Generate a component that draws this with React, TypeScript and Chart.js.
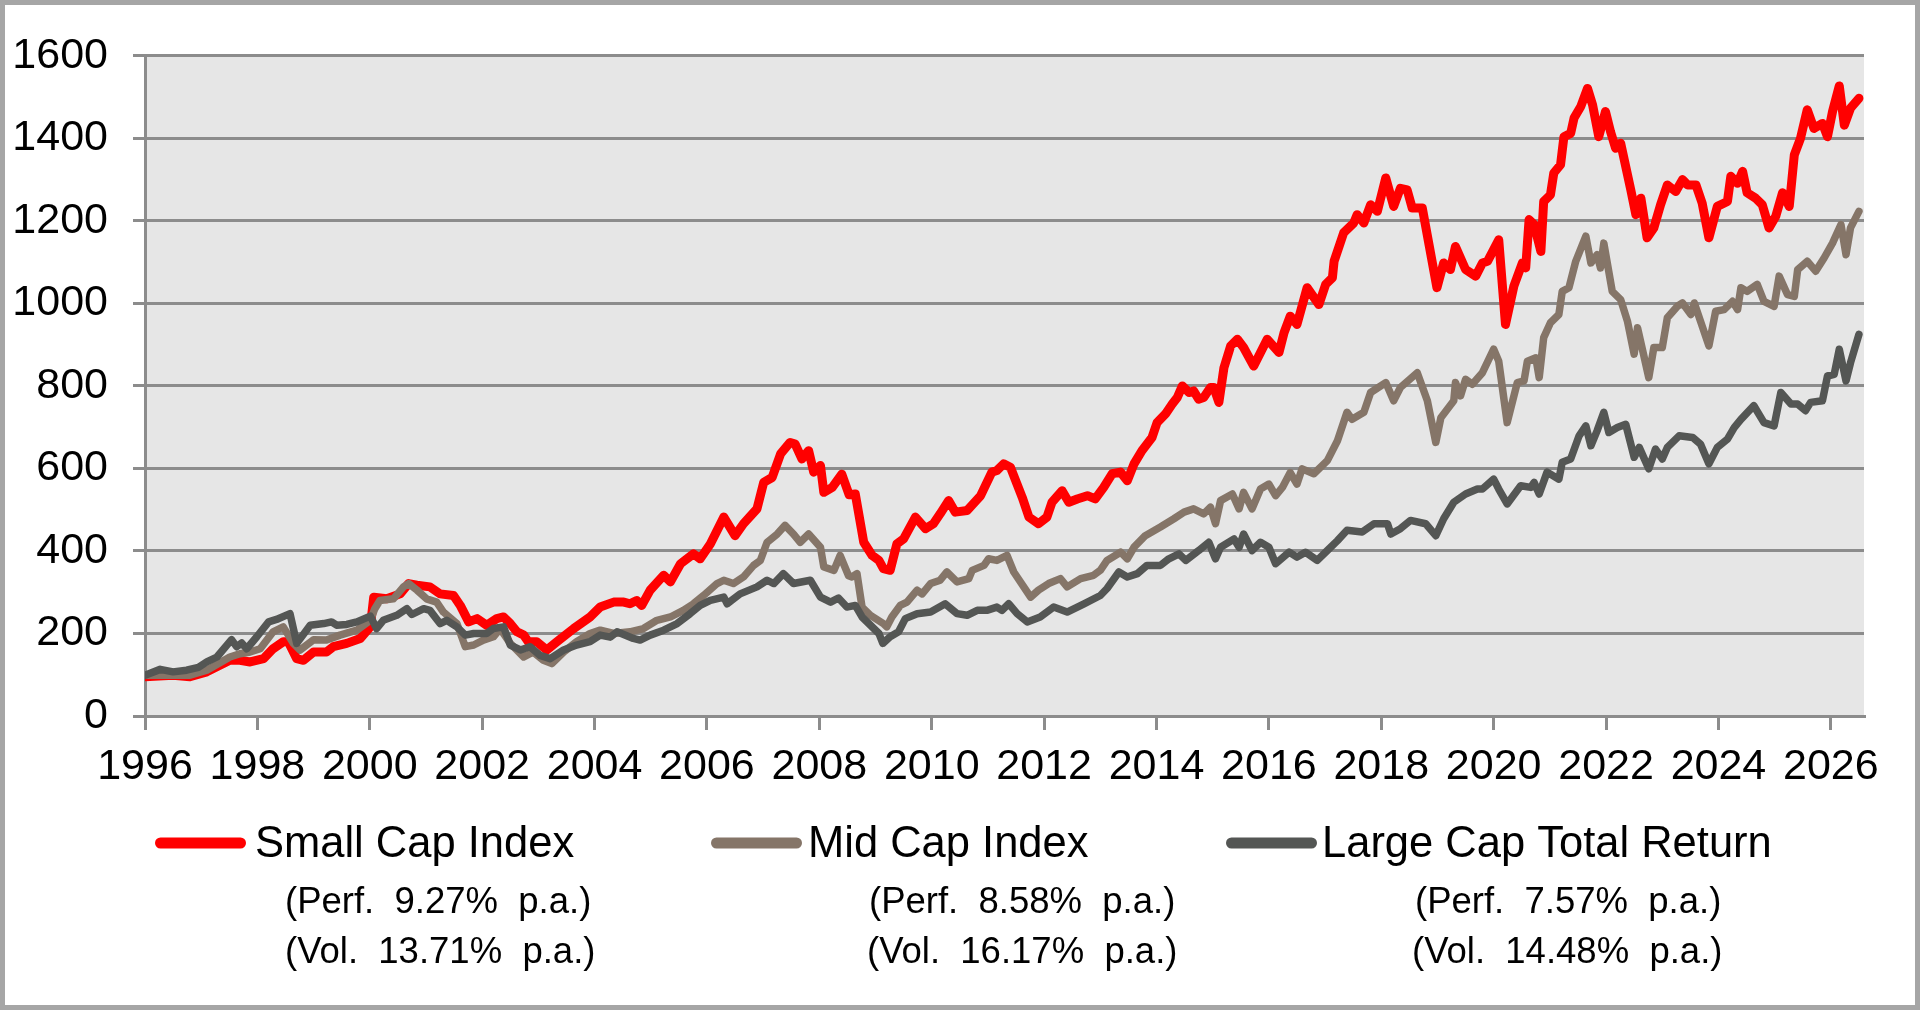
import React, { useEffect, useRef } from 'react';
import { Chart, registerables } from 'chart.js';

Chart.register(...registerables);

type Pt = [number, number];

// [year, index level]
const smallCap: Pt[] = [
  [1996.0, 95], [1996.5, 99], [1996.8, 95], [1997.1, 107], [1997.51, 135], [1997.69, 135], [1997.87, 131],
  [1998.11, 139], [1998.28, 163], [1998.46, 180], [1998.55, 180], [1998.7, 139], [1998.82, 135], [1999.0, 155],
  [1999.23, 155], [1999.35, 168], [1999.59, 176], [1999.83, 188], [2000.01, 216], [2000.07, 288], [2000.3, 284],
  [2000.54, 296], [2000.69, 321], [2000.84, 317], [2001.07, 313], [2001.25, 296], [2001.49, 292], [2001.61, 268],
  [2001.76, 228], [2001.91, 236], [2002.08, 220], [2002.26, 236], [2002.38, 240], [2002.5, 224], [2002.62, 204],
  [2002.74, 196], [2002.82, 180], [2002.97, 180], [2003.15, 160], [2003.33, 180], [2003.63, 212], [2003.92, 240],
  [2004.1, 264], [2004.34, 276], [2004.52, 276], [2004.63, 272], [2004.75, 280], [2004.84, 268], [2004.99, 305],
  [2005.23, 341], [2005.35, 325], [2005.53, 369], [2005.76, 393], [2005.88, 381], [2006.06, 417], [2006.3, 482],
  [2006.5, 437], [2006.65, 466], [2006.89, 502], [2007.01, 566], [2007.16, 578], [2007.31, 635], [2007.48, 663],
  [2007.57, 659], [2007.69, 623], [2007.81, 643], [2007.9, 591], [2008.02, 607], [2008.08, 542], [2008.23, 554],
  [2008.4, 586], [2008.53, 536], [2008.64, 538], [2008.79, 421], [2008.94, 389], [2009.06, 377], [2009.14, 357],
  [2009.26, 353], [2009.38, 417], [2009.5, 429], [2009.71, 482], [2009.89, 454], [2010.03, 466], [2010.15, 490],
  [2010.3, 522], [2010.42, 494], [2010.63, 498], [2010.87, 534], [2011.07, 591], [2011.16, 595], [2011.28, 611],
  [2011.4, 603], [2011.61, 530], [2011.73, 482], [2011.9, 466], [2012.05, 482], [2012.14, 518], [2012.32, 546],
  [2012.44, 518], [2012.59, 526], [2012.77, 534], [2012.91, 526], [2013.06, 554], [2013.21, 587], [2013.36, 591],
  [2013.48, 570], [2013.6, 611], [2013.74, 643], [2013.92, 675], [2014.01, 711], [2014.16, 732], [2014.28, 756],
  [2014.37, 772], [2014.46, 800], [2014.58, 784], [2014.66, 788], [2014.75, 768], [2014.84, 772], [2014.96, 796],
  [2015.02, 796], [2015.11, 760], [2015.2, 844], [2015.32, 897], [2015.44, 913], [2015.55, 893], [2015.73, 848],
  [2015.97, 913], [2016.18, 881], [2016.27, 929], [2016.38, 969], [2016.5, 949], [2016.68, 1038], [2016.89, 997],
  [2017.01, 1046], [2017.13, 1062], [2017.16, 1102], [2017.33, 1171], [2017.51, 1195], [2017.57, 1215],
  [2017.69, 1195], [2017.81, 1239], [2017.93, 1223], [2018.08, 1304], [2018.22, 1235], [2018.34, 1279],
  [2018.46, 1275], [2018.55, 1231], [2018.73, 1231], [2018.85, 1142], [2018.99, 1038], [2019.11, 1098],
  [2019.23, 1082], [2019.32, 1138], [2019.5, 1082], [2019.68, 1066], [2019.8, 1098], [2019.89, 1102],
  [2020.09, 1154], [2020.21, 949], [2020.36, 1042], [2020.51, 1098], [2020.57, 1086], [2020.63, 1203],
  [2020.72, 1191], [2020.84, 1126], [2020.89, 1247], [2021.01, 1263], [2021.07, 1316], [2021.19, 1336],
  [2021.25, 1404], [2021.37, 1412], [2021.43, 1449], [2021.55, 1477], [2021.67, 1521], [2021.76, 1481],
  [2021.87, 1404], [2021.99, 1465], [2022.08, 1416], [2022.17, 1376], [2022.26, 1388], [2022.44, 1275],
  [2022.53, 1215], [2022.62, 1255], [2022.73, 1159], [2022.85, 1183], [2022.97, 1239], [2023.09, 1287],
  [2023.24, 1271], [2023.36, 1300], [2023.45, 1287], [2023.6, 1287], [2023.71, 1243], [2023.83, 1159],
  [2023.98, 1235], [2024.16, 1247], [2024.22, 1308], [2024.34, 1291], [2024.43, 1320], [2024.51, 1268],
  [2024.66, 1255], [2024.78, 1239], [2024.9, 1183], [2025.02, 1211], [2025.14, 1268], [2025.26, 1235],
  [2025.35, 1360], [2025.46, 1400], [2025.58, 1469], [2025.7, 1424], [2025.85, 1436], [2025.94, 1404],
  [2026.03, 1465], [2026.15, 1527], [2026.24, 1432], [2026.35, 1473], [2026.5, 1497],
];

const midCap: Pt[] = [
  [1996.0, 99], [1996.5, 99], [1996.8, 99], [1997.1, 111], [1997.51, 143], [1997.69, 151], [1997.87, 155],
  [1998.05, 163], [1998.28, 204], [1998.46, 216], [1998.64, 176], [1998.76, 160], [1999.0, 185], [1999.23, 184],
  [1999.47, 196], [1999.77, 208], [2000.01, 232], [2000.09, 260], [2000.18, 280], [2000.42, 284], [2000.6, 313],
  [2000.69, 321], [2000.84, 305], [2001.01, 284], [2001.19, 276], [2001.31, 252], [2001.55, 224], [2001.7, 168],
  [2001.85, 172], [2002.02, 184], [2002.2, 192], [2002.32, 212], [2002.5, 176], [2002.74, 143], [2002.91, 155],
  [2003.09, 135], [2003.24, 127], [2003.45, 155], [2003.68, 180], [2003.92, 200], [2004.1, 208], [2004.34, 200],
  [2004.63, 204], [2004.87, 212], [2005.11, 232], [2005.35, 240], [2005.58, 256], [2005.76, 272], [2005.94, 292],
  [2006.18, 321], [2006.3, 329], [2006.47, 321], [2006.65, 337], [2006.83, 365], [2006.95, 377], [2007.07, 421],
  [2007.25, 441], [2007.39, 462], [2007.54, 441], [2007.66, 421], [2007.81, 441], [2008.02, 409], [2008.08, 361],
  [2008.26, 353], [2008.37, 389], [2008.52, 340], [2008.58, 337], [2008.67, 345], [2008.76, 264], [2008.91, 244],
  [2009.14, 224], [2009.2, 216], [2009.29, 240], [2009.44, 268], [2009.56, 276], [2009.74, 305], [2009.83, 296],
  [2009.98, 321], [2010.15, 329], [2010.27, 349], [2010.45, 325], [2010.66, 333], [2010.72, 353], [2010.93, 365],
  [2011.01, 381], [2011.16, 377], [2011.34, 389], [2011.46, 349], [2011.76, 288], [2011.9, 305], [2012.08, 321],
  [2012.29, 333], [2012.41, 313], [2012.65, 333], [2012.88, 341], [2013.0, 353], [2013.12, 377], [2013.36, 397],
  [2013.48, 381], [2013.6, 409], [2013.8, 437], [2014.07, 458], [2014.31, 478], [2014.49, 494], [2014.66, 502],
  [2014.84, 490], [2014.96, 506], [2015.05, 466], [2015.14, 522], [2015.35, 538], [2015.47, 502], [2015.55, 542],
  [2015.7, 502], [2015.85, 550], [2016.0, 562], [2016.12, 534], [2016.24, 554], [2016.38, 590], [2016.5, 562],
  [2016.59, 599], [2016.8, 587], [2017.04, 619], [2017.22, 667], [2017.39, 736], [2017.48, 719], [2017.69, 736],
  [2017.81, 784], [2018.08, 808], [2018.22, 764], [2018.34, 796], [2018.64, 832], [2018.82, 764], [2018.97, 663],
  [2019.06, 723], [2019.29, 764], [2019.32, 808], [2019.41, 776], [2019.5, 816], [2019.62, 804], [2019.8, 832],
  [2020.0, 889], [2020.09, 860], [2020.24, 711], [2020.42, 808], [2020.54, 812], [2020.6, 860], [2020.75, 868],
  [2020.81, 820], [2020.89, 917], [2021.01, 953], [2021.16, 973], [2021.22, 1029], [2021.34, 1038],
  [2021.46, 1102], [2021.64, 1163], [2021.73, 1098], [2021.84, 1118], [2021.9, 1086], [2021.96, 1146],
  [2022.11, 1029], [2022.26, 1009], [2022.38, 957], [2022.5, 877], [2022.56, 941], [2022.76, 820], [2022.85, 893],
  [2023.0, 893], [2023.09, 965], [2023.27, 993], [2023.36, 1001], [2023.51, 973], [2023.57, 1001], [2023.68, 957],
  [2023.83, 897], [2023.95, 981], [2024.1, 985], [2024.25, 1005], [2024.34, 985], [2024.4, 1038], [2024.51, 1029],
  [2024.69, 1046], [2024.81, 1005], [2024.99, 993], [2025.08, 1066], [2025.23, 1021], [2025.35, 1017],
  [2025.41, 1082], [2025.58, 1102], [2025.73, 1078], [2025.88, 1110], [2026.03, 1146], [2026.18, 1191],
  [2026.27, 1118], [2026.35, 1183], [2026.5, 1223],
];

const largeCap: Pt[] = [
  [1996.0, 99], [1996.27, 113], [1996.5, 107], [1996.74, 111], [1996.95, 118], [1997.1, 131], [1997.28, 143],
  [1997.54, 185], [1997.63, 168], [1997.72, 177], [1997.81, 163], [1997.99, 192], [1998.2, 228], [1998.34, 234],
  [1998.58, 248], [1998.7, 176], [1998.94, 220], [1999.18, 224], [1999.32, 228], [1999.41, 220], [1999.59, 222],
  [1999.77, 228], [2000.01, 242], [2000.12, 212], [2000.24, 232], [2000.48, 244], [2000.66, 260], [2000.75, 246],
  [2000.96, 260], [2001.07, 256], [2001.25, 224], [2001.37, 232], [2001.55, 216], [2001.7, 196], [2001.85, 200],
  [2002.08, 200], [2002.2, 212], [2002.38, 216], [2002.5, 172], [2002.68, 160], [2002.85, 168], [2003.03, 147],
  [2003.21, 139], [2003.45, 160], [2003.68, 172], [2003.92, 180], [2004.1, 196], [2004.28, 191], [2004.4, 204],
  [2004.69, 188], [2004.81, 184], [2004.99, 196], [2005.23, 208], [2005.47, 224], [2005.7, 248], [2005.88, 268],
  [2006.06, 280], [2006.3, 288], [2006.36, 272], [2006.59, 296], [2006.89, 313], [2007.07, 329], [2007.19, 321],
  [2007.36, 345], [2007.54, 321], [2007.84, 329], [2008.02, 288], [2008.2, 276], [2008.34, 286], [2008.49, 264],
  [2008.64, 268], [2008.76, 240], [2008.91, 220], [2009.06, 200], [2009.13, 176], [2009.26, 192], [2009.41, 204],
  [2009.53, 236], [2009.74, 248], [2009.98, 252], [2010.24, 272], [2010.45, 248], [2010.63, 244], [2010.81, 256],
  [2010.98, 256], [2011.16, 264], [2011.25, 256], [2011.37, 272], [2011.52, 248], [2011.7, 228], [2011.93, 240],
  [2012.17, 264], [2012.41, 252], [2012.71, 272], [2013.0, 292], [2013.12, 309], [2013.33, 349], [2013.48, 337],
  [2013.66, 345], [2013.83, 365], [2014.07, 365], [2014.22, 381], [2014.4, 393], [2014.52, 377], [2014.75, 401],
  [2014.93, 421], [2015.05, 381], [2015.14, 409], [2015.38, 429], [2015.47, 409], [2015.55, 441], [2015.7, 401],
  [2015.85, 421], [2016.0, 409], [2016.12, 369], [2016.36, 397], [2016.5, 385], [2016.65, 397], [2016.86, 377],
  [2017.04, 401], [2017.22, 425], [2017.39, 450], [2017.66, 446], [2017.87, 466], [2018.11, 466], [2018.17, 441],
  [2018.34, 454], [2018.52, 474], [2018.79, 466], [2018.97, 437], [2019.11, 478], [2019.29, 518], [2019.5, 538],
  [2019.71, 550], [2019.8, 550], [2020.0, 574], [2020.09, 550], [2020.24, 514], [2020.48, 558], [2020.66, 554],
  [2020.72, 566], [2020.81, 538], [2020.95, 591], [2021.16, 574], [2021.22, 615], [2021.37, 623], [2021.52, 679],
  [2021.64, 703], [2021.73, 655], [2021.84, 691], [2021.96, 736], [2022.05, 687], [2022.2, 699], [2022.35, 707],
  [2022.5, 627], [2022.59, 651], [2022.76, 599], [2022.88, 647], [2023.0, 623], [2023.09, 651], [2023.3, 679],
  [2023.54, 675], [2023.68, 659], [2023.83, 611], [2023.98, 651], [2024.16, 671], [2024.28, 699], [2024.4, 719],
  [2024.63, 752], [2024.81, 711], [2024.99, 703], [2025.11, 784], [2025.29, 756], [2025.41, 756], [2025.55, 740],
  [2025.64, 760], [2025.85, 764], [2025.94, 824], [2026.06, 828], [2026.15, 889], [2026.27, 812], [2026.35, 856],
  [2026.5, 925],
];

const seriesNames = ['Small Cap Index', 'Mid Cap Index', 'Large Cap Total Return'];
const perfLabels = ['(Perf.  9.27%  p.a.)', '(Perf.  8.58%  p.a.)', '(Perf.  7.57%  p.a.)'];
const volLabels = ['(Vol.  13.71%  p.a.)', '(Vol.  16.17%  p.a.)', '(Vol.  14.48%  p.a.)'];
const seriesColors = ['#ff0000', '#857568', '#545654'];

const FONT = '"Liberation Sans", Arial, sans-serif';
const AXIS_GREY = '#8c8c8c';

const plotBackground = {
  id: 'plotBackground',
  beforeDraw(chart) {
    const { ctx, chartArea: a } = chart;
    ctx.save();
    ctx.fillStyle = '#e6e6e6';
    ctx.fillRect(a.left, a.top, a.right - a.left, a.bottom - a.top);
    ctx.restore();
  },
};

// legend with the two extra stat lines under each entry
const statsLegend = {
  id: 'statsLegend',
  afterDraw(chart) {
    const ctx = chart.ctx;
    const markerLeft = [150, 706, 1221];
    const nameLeft = [250, 803, 1317];
    const perfLeft = [280, 864, 1410];
    const volLeft = [280, 862, 1407];
    ctx.save();
    seriesNames.forEach((name, i) => {
      ctx.strokeStyle = seriesColors[i];
      ctx.lineWidth = 11;
      ctx.lineCap = 'round';
      ctx.beginPath();
      ctx.moveTo(markerLeft[i] + 5.5, 838);
      ctx.lineTo(markerLeft[i] + 91 - 5.5, 838);
      ctx.stroke();

      ctx.fillStyle = '#000';
      ctx.textAlign = 'left';
      ctx.textBaseline = 'alphabetic';
      ctx.font = `43.5px ${FONT}`;
      ctx.fillText(name, nameLeft[i], 852);
      ctx.font = `36.5px ${FONT}`;
      ctx.fillText(perfLabels[i], perfLeft[i], 908);
      ctx.fillText(volLabels[i], volLeft[i], 958);
    });
    ctx.restore();
  },
};

const toPoints = (s: Pt[]) => s.map(([x, y]) => ({ x, y }));

export default function App() {
  const canvasRef = useRef(null);

  useEffect(() => {
    document.body.style.margin = '0';
    const chart = new Chart(canvasRef.current, {
      type: 'line',
      data: {
        datasets: [
          { label: seriesNames[0], data: toPoints(smallCap), borderColor: seriesColors[0], borderWidth: 9, order: 3 },
          { label: seriesNames[1], data: toPoints(midCap), borderColor: seriesColors[1], borderWidth: 7.5, order: 2 },
          { label: seriesNames[2], data: toPoints(largeCap), borderColor: seriesColors[2], borderWidth: 7.5, order: 1 },
        ],
      },
      options: {
        animation: false,
        responsive: true,
        maintainAspectRatio: false,
        layout: { padding: { left: 0, top: 49, right: 51, bottom: 0 } },
        elements: {
          point: { radius: 0 },
          line: { tension: 0, borderJoinStyle: 'round', borderCapStyle: 'round' },
        },
        plugins: {
          legend: { display: false },
          tooltip: { enabled: false },
        },
        scales: {
          x: {
            type: 'linear',
            min: 1996,
            max: 2026.59,
            afterFit: (scale) => {
              scale.height = 289;
            },
            ticks: {
              stepSize: 2,
              includeBounds: false,
              autoSkip: false,
              maxRotation: 0,
              padding: 11,
              color: '#000',
              font: { family: FONT, size: 43 },
              callback: (v) => String(v),
            },
            grid: {
              drawOnChartArea: false,
              drawTicks: true,
              tickLength: 14,
              color: AXIS_GREY,
              lineWidth: 3,
            },
            border: { display: true, color: AXIS_GREY, width: 3 },
          },
          y: {
            min: 0,
            max: 1600,
            afterFit: (scale) => {
              scale.width = 140;
            },
            ticks: {
              stepSize: 200,
              padding: 25,
              color: '#000',
              font: { family: FONT, size: 43 },
              callback: (v) => String(v),
            },
            grid: { color: AXIS_GREY, lineWidth: 3, tickLength: 12 },
            border: { display: true, color: AXIS_GREY, width: 3 },
          },
        },
      },
      plugins: [plotBackground, statsLegend],
    });

    return () => {
      chart.destroy();
    };
  }, []);

  return (
    <div
      style={{
        width: 1920,
        height: 1010,
        boxSizing: 'border-box',
        border: '5px solid #a6a6a6',
        background: '#fff',
      }}
    >
      <div style={{ position: 'relative', width: 1910, height: 1000 }}>
        <canvas ref={canvasRef} />
      </div>
    </div>
  );
}
